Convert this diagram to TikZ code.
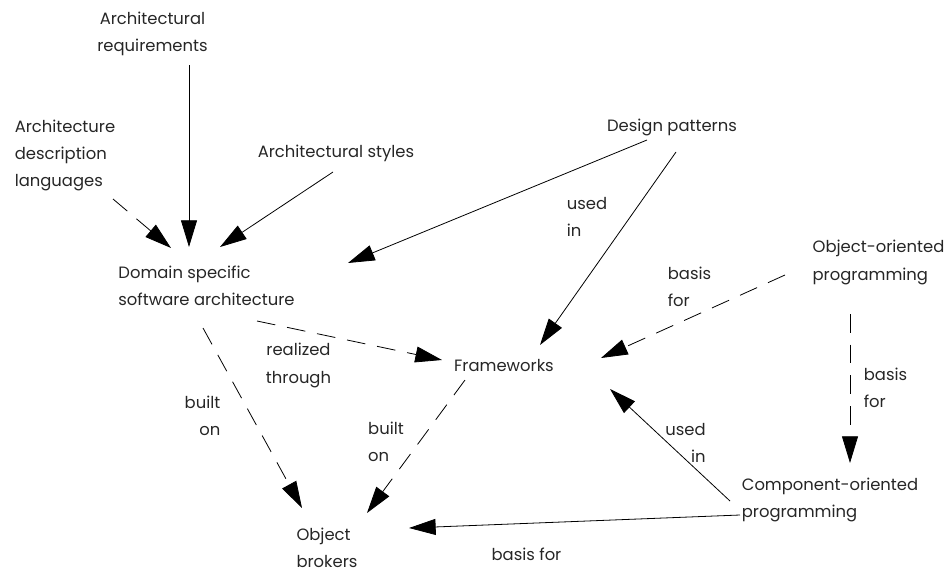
\documentclass[tikz,border=0pt]{standalone}
\usepackage{fontspec}
\setmainfont{Poppins}
\usetikzlibrary{arrows.meta}

\begin{document}
\begin{tikzpicture}[x=0.75pt, y=-0.75pt,
    every node/.style={inner sep=0pt, text=black!85,
      font=\fontsize{12.3}{20.3}\selectfont},
    tip/.style={-{Triangle[length=20pt,width=12pt]}, line width=0.6pt},
    dashtip/.style={tip, dash pattern=on 14pt off 9pt}]
    \useasboundingbox (0,0) rectangle (946,571);

    % Concepts
    \node[align=center] (req) at (152.5,33.5) {Architectural\\requirements};
    \node[align=left] (adl) at (65,155.5) {Architecture\\description\\languages};
    \node (styles) at (336,153) {Architectural styles};
    \node (design) at (672,127) {Design patterns};
    \node[align=left] (dssa) at (206.5,285.5) {Domain specific\\software architecture};
    \node[align=left] (oop) at (878.5,262.5) {Object-oriented\\programming};
    \node (fw) at (504,366) {Frameworks};
    \node[align=left] (cop) at (830,500) {Component-oriented\\programming};
    \node[align=left] (ob) at (327,547.5) {Object\\brokers};

    % Relation labels
    \node[align=left] (usedinA) at (587,217) {used\\in};
    \node[align=left] (basisforA) at (689.5,287) {basis\\for};
    \node[align=center] (realized) at (298.5,365.5) {realized\\through};
    \node[align=right] (builtonA) at (202.5,416) {built\\on};
    \node[align=left] (builtonB) at (386,441.5) {built\\on};
    \node[align=right] (usedinB) at (685.5,443) {used\\in};
    \node[align=left] (basisforB) at (885.5,388) {basis\\for};
    \node (basisforC) at (526.5,554) {basis for};

    % Arrows into the architecture
    \draw[tip] ([shift={(36.5,31.5)}]req.center) -- ([shift={(-17.5,-38.5)}]dssa.center);
    \draw[dashtip] ([shift={(48,43.5)}]adl.center) -- ([shift={(-35.5,-37.5)}]dssa.center);
    \draw[tip] ([shift={(-3,19)}]styles.center) -- ([shift={(13.5,-38.5)}]dssa.center);
    \draw[tip] ([shift={(-25,13)}]design.center) -- ([shift={(141.5,-22.5)}]dssa.center);

    % Frameworks
    \draw[tip] ([shift={(4,25)}]design.center) -- ([shift={(36,-21)}]fw.center);
    \draw[dashtip] ([shift={(50.5,35.5)}]dssa.center) -- ([shift={(-62,-6)}]fw.center);
    \draw[dashtip] ([shift={(-93.5,12.5)}]oop.center) -- ([shift={(97,-8)}]fw.center);
    \draw[tip] ([shift={(-100,1)}]cop.center) -- ([shift={(106,23)}]fw.center);

    % Object brokers
    \draw[dashtip] ([shift={(-3.5,42.5)}]dssa.center) -- ([shift={(-25,-39.5)}]ob.center);
    \draw[dashtip] ([shift={(-39,14)}]fw.center) -- ([shift={(40,-34.5)}]ob.center);
    \draw[tip] ([shift={(-90,15)}]cop.center) -- ([shift={(82,-19.5)}]ob.center);

    % Components
    \draw[dashtip] ([shift={(-28.5,51.5)}]oop.center) -- ([shift={(20,-37)}]cop.center);
\end{tikzpicture}
\end{document}
